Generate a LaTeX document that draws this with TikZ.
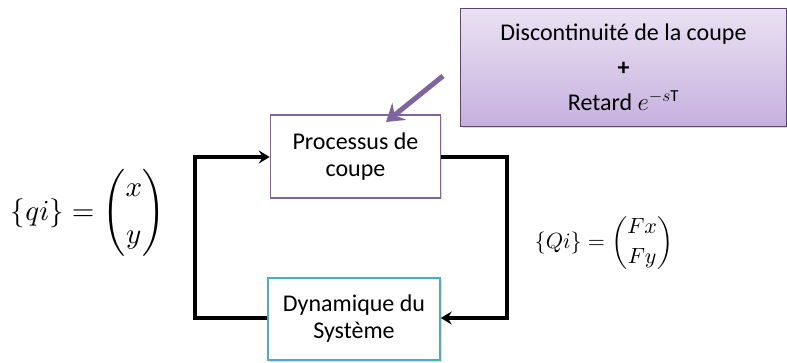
\documentclass[tikz,border=0pt]{standalone}
\usepackage{amsmath}
\usepackage{graphicx}
\usepackage{fontspec}
\setmainfont{Carlito}
\usetikzlibrary{arrows.meta,shadows}
\definecolor{purpB}{HTML}{8064A2}
\definecolor{tealB}{HTML}{4BACC6}
\definecolor{lilacTop}{HTML}{EAE2F3}
\definecolor{lilacBot}{HTML}{C6B0DE}
\begin{document}
\begin{tikzpicture}[x=1pt,y=-1pt,
  blockbox/.style={draw,line width=1.5pt,fill=white,minimum width=170pt,minimum height=83pt,align=center,font=\fontsize{24}{27}\selectfont,drop shadow={opacity=0.25,shadow xshift=1.5pt,shadow yshift=-1.5pt}},
  loopline/.style={line width=3.5pt,line join=miter},
  looptip/.style={-{Stealth[length=11pt,width=13pt,inset=4pt]}}
]
\useasboundingbox (0,0) rectangle (787,363);
\node[draw=purpB!70!black,line width=1pt,top color=lilacTop,bottom color=lilacBot,minimum width=326pt,minimum height=118pt,anchor=north west,align=center,font=\fontsize{24}{27}\selectfont,drop shadow={opacity=0.3,shadow xshift=2pt,shadow yshift=-2pt}] (disc) at (460,8)
  {Discontinuité de la coupe\\[8pt] \textbf{+}\\[8pt] Retard $e^{-s\mathrm{T}}$};
\node[blockbox,draw=purpB] (proc) at (355.5,156.5) {Processus de\\coupe};
\node[blockbox,draw=tealB,minimum width=172pt,minimum height=82pt] (dyn) at (354,319) {Dynamique du\\Système};
\coordinate (tl) at (195,157);
\coordinate (bl) at (195,318);
\coordinate (tr) at (507,157);
\coordinate (br) at (507,318);
\draw[loopline,looptip] (dyn.west |- bl) -- (bl) -- (tl) -- (proc.west |- tl);
\draw[loopline,looptip] (proc.east |- tr) -- (tr) -- (br) -- (dyn.east |- br);
\coordinate (arrA) at (443,76);
\coordinate (arrB) at (386,122);
\draw[purpB,line width=5pt,-{Stealth[length=17pt,width=22pt,inset=6pt]}] (arrA) -- (arrB);
\node (qi) at (88,213) {\scalebox{2.9}{$\{qi\}=\begin{pmatrix}x\\[4pt] y\end{pmatrix}$}};
\node (Qi) at (604,243) {\scalebox{2.2}{$\{Qi\}=\begin{pmatrix}Fx\\[1.5pt] Fy\end{pmatrix}$}};
\end{tikzpicture}
\end{document}
